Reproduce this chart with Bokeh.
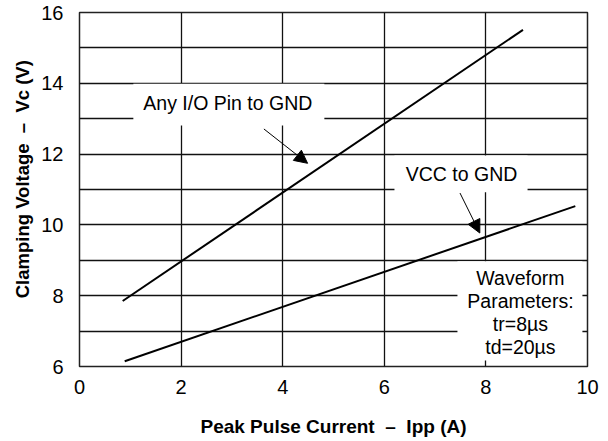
from bokeh.plotting import figure
from bokeh.models import FixedTicker, Arrow, NormalHead, ColumnDataSource, Range1d
from bokeh.core.properties import value
from bokeh.embed import file_html
from bokeh.resources import INLINE

# ---- data ----
ipp_io = [0.85, 8.73]
vc_io = [7.85, 15.51]
ipp_vcc = [0.89, 9.76]
vc_vcc = [6.15, 10.53]

x_ticks = [0, 2, 4, 6, 8, 10]
y_ticks = [6, 8, 10, 12, 14, 16]
x_grid = [2, 4, 6, 8]
y_grid = [7, 8, 9, 10, 11, 12, 13, 14, 15]

note_texts = ["Any I/O Pin to GND", "VCC to GND", "Waveform\nParameters:\ntr=8\u00b5s\ntd=20\u00b5s"]
note_x = [2.92, 7.52, 8.68]
note_y = [13.43, 11.44, 7.52]
box_left = [1.06, 6.20, 7.44]
box_right = [4.82, 8.82, 9.90]
box_bottom = [12.81, 10.92, 6.17]
box_top = [13.99, 11.96, 8.97]
arrow_x0 = [3.63, 7.49]
arrow_y0 = [12.71, 10.90]
arrow_x1 = [4.49, 7.88]
arrow_y1 = [11.74, 9.77]

FONT = "Liberation Sans"
NB = "\u00a0"

p = figure(width=608, height=441, x_range=Range1d(0, 10), y_range=Range1d(6, 16),
           output_backend="svg", toolbar_location=None,
           min_border_left=79, min_border_top=12, min_border_right=21, min_border_bottom=75,
           x_axis_label="Peak Pulse Current" + NB + " \u2013" + NB + " Ipp (A)",
           y_axis_label=NB * 4 + "Clamping Voltage" + NB + " \u2013" + NB + " Vc (V)")

p.background_fill_color = "white"
p.border_fill_color = "white"
p.outline_line_color = "#222222"
p.outline_line_width = 1.5

p.xaxis.ticker = FixedTicker(ticks=x_ticks)
p.yaxis.ticker = FixedTicker(ticks=y_ticks)
p.xgrid.ticker = FixedTicker(ticks=x_grid)
p.ygrid.ticker = FixedTicker(ticks=y_grid)
for g in (p.xgrid, p.ygrid):
    g.grid_line_color = "#111111"
    g.grid_line_width = 1.3
    g.grid_line_alpha = 1.0

for ax in (p.xaxis, p.yaxis):
    ax.axis_line_color = None
    ax.major_tick_line_color = None
    ax.minor_tick_line_color = None
    ax.major_label_text_font = FONT
    ax.major_label_text_font_size = "20px"
    ax.major_label_text_color = "black"
    ax.axis_label_text_font = FONT
    ax.axis_label_text_font_style = "bold"
    ax.axis_label_text_color = "black"

p.xaxis.axis_label_text_font_size = "19px"
p.yaxis.axis_label_text_font_size = "18.5px"
p.xaxis.major_label_standoff = 7
p.yaxis.major_label_standoff = 10
p.xaxis.axis_label_standoff = 19
p.yaxis.axis_label_standoff = 5

# white boxes behind annotations
p.quad(left=box_left, right=box_right, bottom=box_bottom, top=box_top,
       fill_color="white", line_color=None)

# curves
p.line(ipp_io, vc_io, line_color="black", line_width=2)
p.line(ipp_vcc, vc_vcc, line_color="black", line_width=2)

# annotation texts
p.text(x=note_x, y=note_y, text=note_texts, text_align="center", text_baseline="middle",
       text_font=value(FONT), text_font_size="19.5px", text_color="black",
       text_line_height=1.04)

# arrows
asrc = ColumnDataSource(dict(x0=arrow_x0, y0=arrow_y0, x1=arrow_x1, y1=arrow_y1))
p.add_layout(Arrow(end=NormalHead(size=13, fill_color="black", line_color="black"),
                   x_start="x0", y_start="y0", x_end="x1", y_end="y1",
                   line_color="black", line_width=1, source=asrc))

open("out.html", "w").write(file_html(p, INLINE))
